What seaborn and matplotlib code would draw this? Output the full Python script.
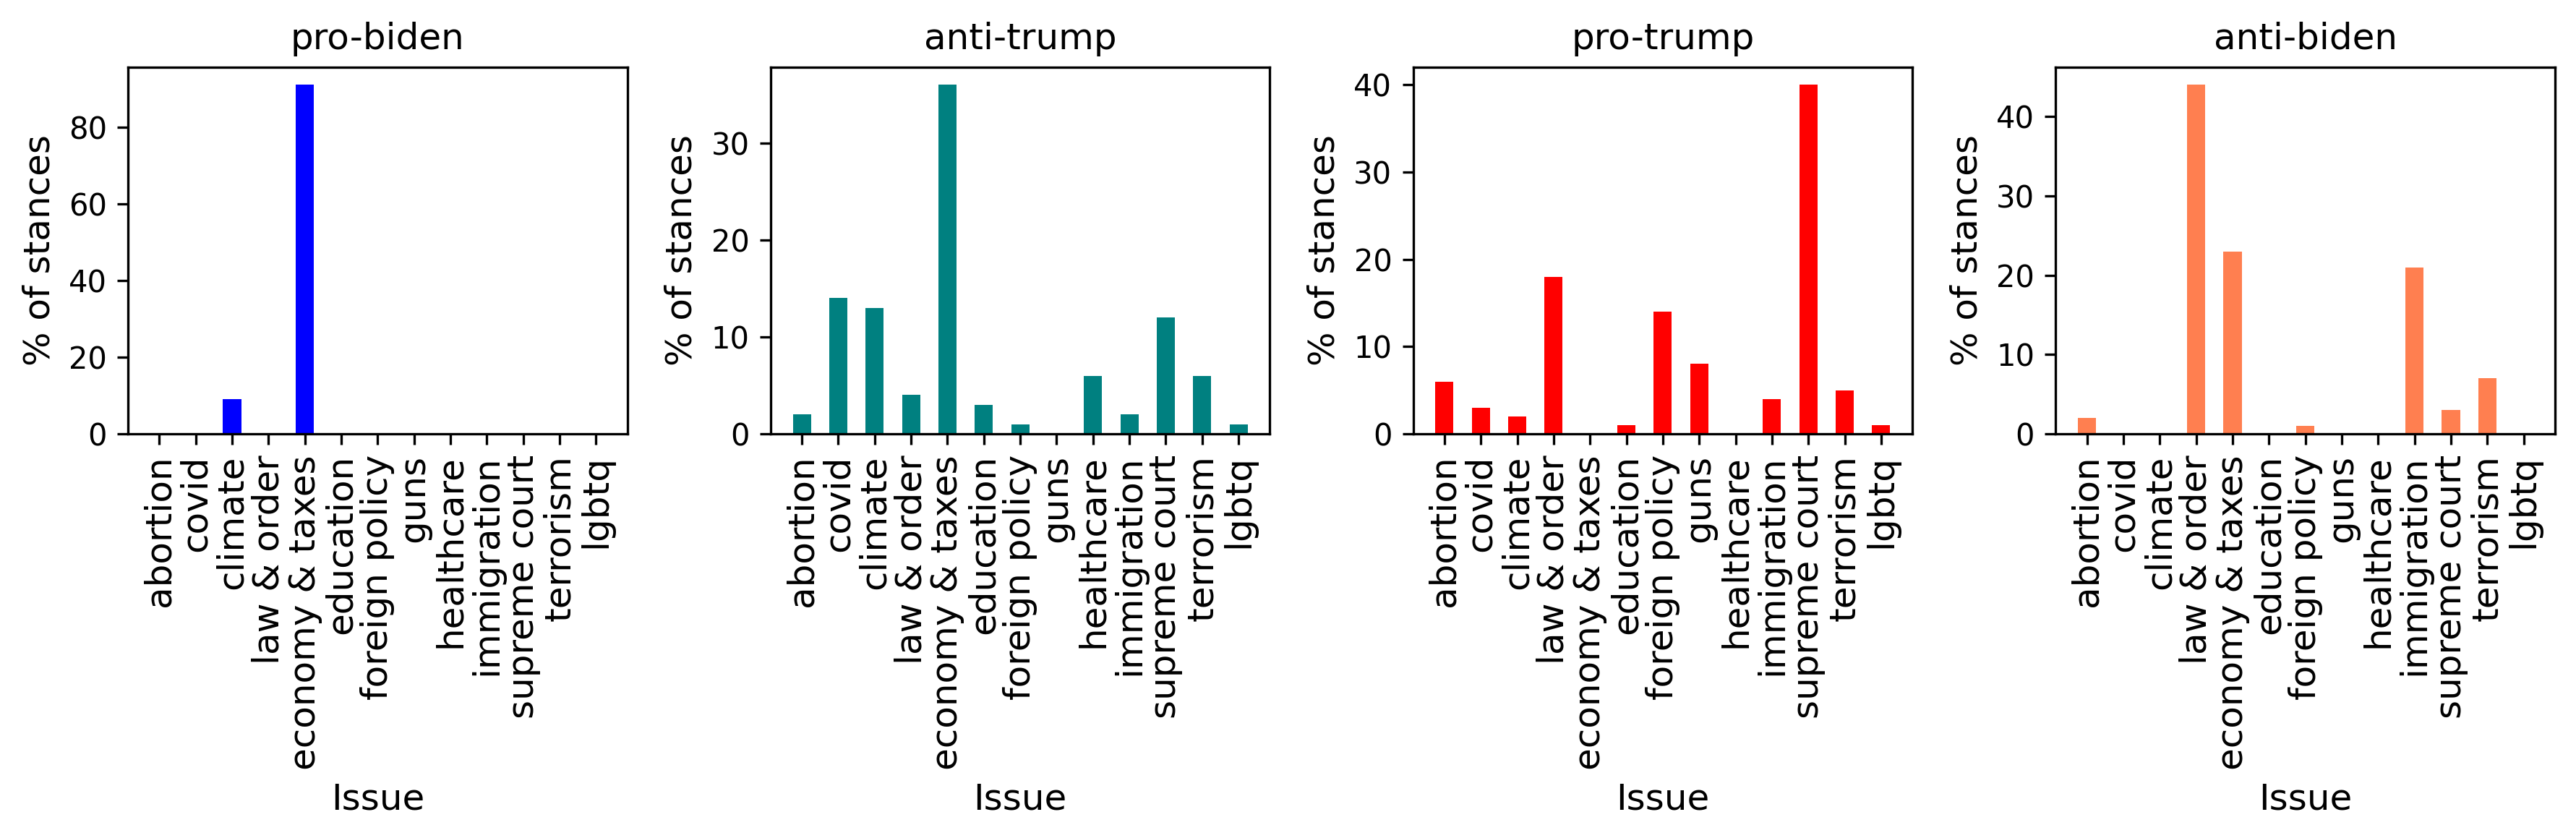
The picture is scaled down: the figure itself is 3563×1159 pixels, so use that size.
import matplotlib
matplotlib.use("Agg")
import matplotlib.pyplot as plt
import seaborn as sns
import pandas as pd

# issues on the x axis (same order in every panel)
issues = ['abortion', 'covid', 'climate', 'law & order', 'economy & taxes',
          'education', 'foreign policy', 'guns', 'healthcare', 'immigration',
          'supreme court', 'terrorism', 'lgbtq']

# % of stances per issue
pro_biden = [0, 0, 9, 0, 91, 0, 0, 0, 0, 0, 0, 0, 0]
anti_trump = [2, 14, 13, 4, 36, 3, 1, 0, 6, 2, 12, 6, 1]
pro_trump = [6, 3, 2, 18, 0, 1, 14, 8, 0, 4, 40, 5, 1]
anti_biden = [2, 0, 0, 44, 23, 0, 1, 0, 0, 21, 3, 7, 0]

panels = ['pro-biden', 'anti-trump', 'pro-trump', 'anti-biden']
colors = ['blue', 'teal', 'red', 'coral']
values = [pro_biden, anti_trump, pro_trump, anti_biden]

dpi = 300
fig, axes = plt.subplots(1, 4, figsize=(3563 / dpi, 1159 / dpi), dpi=dpi)
fig.subplots_adjust(left=177 / 3563, right=3534 / 3563,
                    top=1 - 93 / 1159, bottom=1 - 600 / 1159, wspace=0.287)

for ax, name, col, vals in zip(axes, panels, colors, values):
    df = pd.DataFrame({'Issue': issues, 'pct': vals})
    sns.barplot(data=df, x='Issue', y='pct', color=col, saturation=1,
                width=0.5, errorbar=None, ax=ax)
    ax.set_xlim(-0.86, len(issues) - 1 + 0.86)
    ax.set_title(name, fontsize=12)
    ax.set_xlabel('Issue', fontsize=12)
    ax.set_ylabel('% of stances', fontsize=12)
    ax.tick_params(axis='x', labelrotation=90, labelsize=12)
    ax.tick_params(axis='y', labelsize=10)

fig.savefig('out.png', dpi=dpi)
